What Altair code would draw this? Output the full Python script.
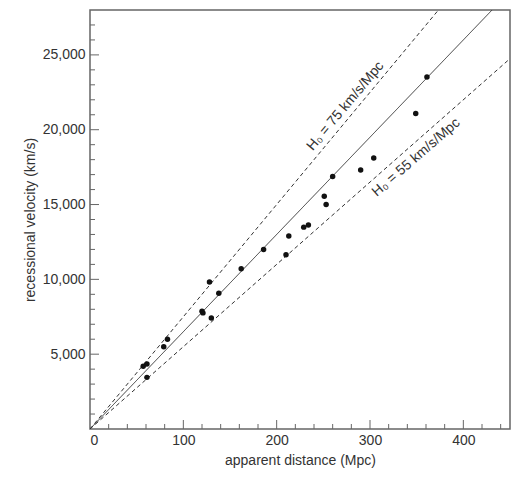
"""Hubble diagram: recession velocity against apparent distance."""

import altair as alt
import pandas as pd

# galaxies
distance = [57, 61, 61, 79, 83, 120, 121, 130, 128, 138, 162, 186,
            210, 213, 229, 234, 251, 253, 260, 290, 304, 349, 361]
velocity = [4200, 4350, 3450, 5500, 6000, 7870, 7760, 7420, 9820, 9070, 10710, 12000,
            11640, 12890, 13490, 13640, 15560, 15000, 16870, 17310, 18110, 21090, 23530]

# Hubble-law lines v = H0 * d
hubble_const = [55, 65, 75]
line_style = ["dashed", "solid", "dashed"]
line_dist = [0, 450]

label_text = ["H\u2080 = 75 km/s/Mpc", "H\u2080 = 55 km/s/Mpc"]
label_h = [75, 55]

x_labels = [0, 100, 200, 300, 400]
y_labels = [5000, 10000, 15000, 20000, 25000]
x_major = [100, 200, 300, 400]
x_minor = [v for v in range(20, 450, 20) if v % 100]
y_major = y_labels
y_minor = [v for v in range(1000, 28000, 1000) if v % 5000]

W, H = 420, 419
FONT = "Liberation Sans"
INK = "#333"

xs = alt.Scale(domain=[0, 450], nice=False)
ys = alt.Scale(domain=[0, 28000], nice=False)

# same axis spec in every layer so the merge keeps it
x_axis = alt.Axis(
    values=x_labels,
    title="apparent distance (Mpc)",
    ticks=False,
    domain=False,
    grid=False,
    labelPadding=4,
    titlePadding=6,
)
y_axis = alt.Axis(
    values=y_labels,
    format=",d",
    title="recessional velocity (km/s)",
    ticks=False,
    domain=False,
    grid=False,
    labelPadding=5,
    titlePadding=5,
)

df_pts = pd.DataFrame({"distance": distance, "velocity": velocity})
df_lines = pd.DataFrame(
    [
        {"d": d, "v": h * d, "H": h, "style": s}
        for h, s in zip(hubble_const, line_style)
        for d in line_dist
    ]
)

lines = (
    alt.Chart(df_lines)
    .mark_line(clip=True, color=INK, strokeWidth=1)
    .encode(
        x=alt.X("d:Q", scale=xs, axis=x_axis),
        y=alt.Y("v:Q", scale=ys, axis=y_axis),
        detail="H:N",
        strokeDash=alt.StrokeDash(
            "style:N",
            scale=alt.Scale(domain=["solid", "dashed"], range=[[1, 0], [4, 3]]),
            legend=None,
        ),
    )
)

points = (
    alt.Chart(df_pts)
    .mark_circle(size=30, color="#111", opacity=1)
    .encode(
        x=alt.X("distance:Q", scale=xs, axis=x_axis),
        y=alt.Y("velocity:Q", scale=ys, axis=y_axis),
    )
)


def x_ticks(vals, length):
    return (
        alt.Chart(pd.DataFrame({"v": vals}))
        .mark_rule(color="#666", strokeWidth=1)
        .encode(
            x=alt.X("v:Q", scale=xs, axis=x_axis),
            y=alt.value(H),
            y2=alt.value(H - length),
        )
    )


def y_ticks(vals, length):
    return (
        alt.Chart(pd.DataFrame({"v": vals}))
        .mark_rule(color="#666", strokeWidth=1)
        .encode(
            y=alt.Y("v:Q", scale=ys, axis=y_axis),
            x=alt.value(0),
            x2=alt.value(length),
        )
    )


# labels sit along their lines, rotated to the line slope
label_layers = []
for txt, h, at, ang, dy in zip(label_text, label_h, [282, 341], [310, 319], [-10, 12]):
    df_lab = pd.DataFrame([{"d": at, "v": h * at, "t": txt}])
    label_layers.append(
        alt.Chart(df_lab)
        .mark_text(
            angle=ang, dy=dy, align="center", baseline="middle",
            font=FONT, fontSize=14, color=INK,
        )
        .encode(
            x=alt.X("d:Q", scale=xs, axis=x_axis),
            y=alt.Y("v:Q", scale=ys, axis=y_axis),
            text="t:N",
        )
    )

chart = (
    alt.layer(
        lines,
        x_ticks(x_minor, 5),
        x_ticks(x_major, 9),
        y_ticks(y_minor, 5),
        y_ticks(y_major, 9),
        points,
        *label_layers,
    )
    .properties(
        width=W,
        height=H,
        autosize="none",
        padding={"left": 82, "top": 2, "right": 3, "bottom": 50},
    )
    .configure_view(stroke="#666", strokeWidth=1.5)
    .configure_axis(
        labelFont=FONT,
        labelFontSize=14,
        labelColor=INK,
        titleFont=FONT,
        titleFontSize=14,
        titleFontWeight="normal",
        titleColor=INK,
    )
)

chart.save("out.html", embed_options={"renderer": "svg", "actions": False})
